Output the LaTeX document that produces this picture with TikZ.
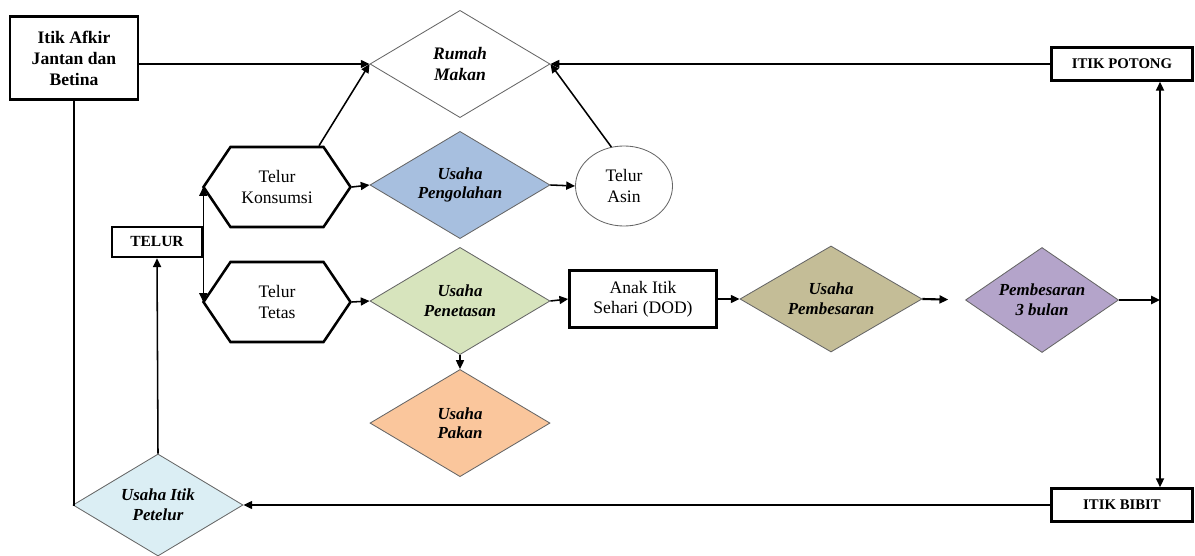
\documentclass[tikz,border=0pt]{standalone}
\usepackage{fontspec}
\setmainfont{Liberation Serif}
\definecolor{m_olah}{HTML}{A7BFDF}
\definecolor{m_tetas}{HTML}{D7E4BD}
\definecolor{m_besar}{HTML}{C4BD97}
\definecolor{m_bulan}{HTML}{B4A4CA}
\definecolor{m_pakan}{HTML}{FAC69C}
\definecolor{m_petelur}{HTML}{DBEEF4}
\usepackage{tikz}
\usetikzlibrary{shapes.geometric,shapes.symbols,positioning,arrows.meta}

\begin{document}
\begin{tikzpicture}[
        x=0.025cm, y=-0.025cm,
        font=\fontsize{12.5}{14.5}\selectfont,
        box/.style={draw,line width=1.8pt,fill=white,align=center,inner sep=1pt},
        hexa/.style={signal,signal to=west and east,signal pointer angle=112,draw,line width=1.8pt,
            fill=white,align=center,minimum width=3.675cm,minimum height=2cm,inner sep=0pt},
        usaha/.style={diamond,draw=black!60,line width=0.6pt,aspect=1.68,minimum width=4.5cm,
            minimum height=2.68cm,inner sep=0pt,align=center,font=\fontsize{12}{14}\selectfont\bfseries\itshape},
        arr/.style={-{Triangle[length=2.2mm,width=2mm]},line width=1.1pt}
    ]
        \useasboundingbox (0,0) rectangle (1195,556);

        % boxes
        \node[box,font=\fontsize{12.5}{15}\selectfont\bfseries,minimum width=3.2cm,minimum height=2.075cm] (afkir) at (74,58) {Itik Afkir\\Jantan dan\\Betina};
        \node[box,font=\fontsize{10.5}{12}\selectfont\bfseries,minimum width=3.525cm,minimum height=0.825cm] (potong) at (1122,64) {ITIK POTONG};
        \node[box,font=\fontsize{10.5}{12}\selectfont\bfseries,minimum width=3.525cm,minimum height=0.825cm] (bibit) at (1122,505) {ITIK BIBIT};
        \node[box,font=\fontsize{11}{12}\selectfont\bfseries,minimum width=2.25cm,minimum height=0.75cm] (telur) at (157,242) {TELUR};
        \node[box,minimum width=3.675cm,minimum height=1.425cm] (anak) at (643,299) {Anak Itik\\Sehari (DOD)};

        % hexagons and ellipse
        \node[hexa] (konsumsi) at (277,187) {Telur\\Konsumsi};
        \node[hexa] (tetas) at (277,302) {Telur\\Tetas};
        \node[ellipse,draw=black!60,line width=0.6pt,minimum width=2.425cm,minimum height=2cm,align=center,inner sep=0pt] (asin) at (624,186) {Telur\\Asin};

        % diamonds
        \node[usaha,fill=white,font=\fontsize{12.5}{14.5}\selectfont\bfseries\itshape] (rumah) at (460,64) {Rumah\\Makan};
        \node[usaha,fill=m_olah] (olah) at (460,185) {Usaha\\Pengolahan};
        \node[usaha,fill=m_tetas] (tetasan) at (460,301) {Usaha\\Penetasan};
        \node[usaha,fill=m_pakan] (pakan) [below=0.35cm of tetasan] {Usaha\\Pakan};
        \node[usaha,fill=m_besar,minimum width=4.55cm,minimum height=2.65cm] (besar) at (831,299) {Usaha\\Pembesaran};
        \node[usaha,fill=m_bulan,minimum width=3.825cm,minimum height=2.625cm] (bulan) at (1042,300) {Pembesaran\\3 bulan};
        \node[usaha,fill=m_petelur,minimum width=4.25cm,minimum height=2.55cm] (petelur) at (158,505) {Usaha Itik\\Petelur};

        \coordinate (vtop) at ([xshift=0.95cm]potong.south);
        \coordinate (vbot) at ([xshift=0.95cm]bibit.north);

        % connectors
        \path[arr] (afkir.east |- rumah.west) edge (rumah.west)
                   ([xshift=1.05cm]konsumsi.north) edge (rumah.west)
                   (asin.108) edge (rumah.east)
                   (potong.west) edge (rumah.east)
                   (konsumsi.east) edge (olah.west)
                   (olah.east) edge (asin.west)
                   (telur.east) edge (telur.east |- konsumsi.west)
                   (telur.east) edge (telur.east |- tetas.west)
                   (tetas.east) edge (tetasan.west)
                   (tetasan.east) edge (anak.west)
                   (tetasan.south) edge (pakan.north)
                   (anak.east) edge (besar.west)
                   (besar.east) edge[shorten >=0.42cm,line width=1.5pt] (bulan.west)
                   (bulan.east) edge[line width=1.5pt] (vtop |- bulan.east)
                   (bibit.west) edge (petelur.east)
                   (petelur.north) edge (telur.south);
        \draw[arr,{Triangle[length=2.2mm,width=2mm]}-{Triangle[length=2.2mm,width=2mm]}] (vtop) -- (vbot);
        \draw[line width=1.1pt] (afkir.south) -- (afkir.south |- petelur.west) -- (petelur.west);
    \end{tikzpicture}
\end{document}
